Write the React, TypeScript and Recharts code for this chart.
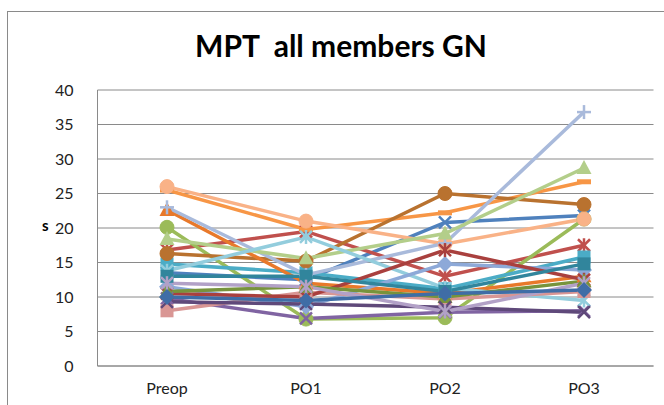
import React from "react";
import { LineChart, Line, XAxis, YAxis, CartesianGrid } from "recharts";

const categories = ["Preop", "PO1", "PO2", "PO3"];
const yTicks = [0, 5, 10, 15, 20, 25, 30, 35, 40];

const m01 = [13.5, 12.5, 20.8, 21.8];
const m02 = [16.8, 19.5, 13.0, 17.5];
const m03 = [20.1, 6.8, 7.0, 21.3];
const m04 = [9.8, 6.9, 7.8, 8.0];
const m05 = [14.8, 13.5, 11.2, 15.8];
const m06 = [25.5, 19.8, 22.2, 26.7];
const m07 = [16.3, 15.2, 25.0, 23.4];
const m08 = [22.6, 12.0, 10.5, 13.0];
const m09 = [26.0, 21.0, 17.7, 21.3];
const m10 = [23.0, 13.2, 17.8, 36.8];
const m11 = [18.4, 15.6, 19.2, 28.7];
const m12 = [13.8, 18.7, 11.3, 9.5];
const m13 = [11.5, 8.6, 14.8, 13.9];
const m14 = [8.0, 10.7, 9.7, 10.8];
const m15 = [10.5, 10.0, 16.8, 12.5];
const m16 = [10.8, 11.5, 10.0, 12.3];
const m17 = [9.3, 9.0, 8.5, 7.8];
const m18 = [13.0, 13.0, 10.8, 14.8];
const m19 = [12.0, 11.5, 7.9, 12.0];
const m20 = [10.0, 9.5, 10.5, 11.0];

const seriesValues = [m01, m02, m03, m04, m05, m06, m07, m08, m09, m10, m11, m12, m13, m14, m15, m16, m17, m18, m19, m20];

const seriesColors = [
  "#4F81BD", "#C0504D", "#9BBB59", "#8064A2", "#4BACC6", "#F79646", "#B9722F",
  "#E8792B", "#F9B287", "#A9BADB", "#B3CE8A", "#93CDDD", "#8DA9D8", "#D99694",
  "#A9403E", "#77933C", "#5F497A", "#31859C", "#B2A1C7", "#3F6DA6",
];
const seriesMarkers = [
  "x", "star", "circle", "x", "square", "dash", "circle",
  "triangle", "circle", "plus", "triangle", "star", "diamond", "square",
  "star", "triangle", "x", "square", "star", "diamond",
];

const data = categories.map((c, i) => {
  const row: Record<string, any> = { name: c };
  seriesValues.forEach((s, k) => {
    row["m" + (k + 1)] = s[i];
  });
  return row;
});

function MarkerShape({ cx, cy, color, shape }: any) {
  if (cx == null || cy == null) return null;
  const r = 7;
  switch (shape) {
    case "circle":
      return <circle cx={cx} cy={cy} r={r} fill={color} stroke={color} strokeWidth={1} />;
    case "square":
      return <rect x={cx - 6.5} y={cy - 6.5} width={13} height={13} fill={color} />;
    case "triangle":
      return <polygon points={`${cx},${cy - 8} ${cx + 7.5},${cy + 6} ${cx - 7.5},${cy + 6}`} fill={color} />;
    case "diamond":
      return <polygon points={`${cx},${cy - 8} ${cx + 8},${cy} ${cx},${cy + 8} ${cx - 8},${cy}`} fill={color} />;
    case "x":
      return (
        <g stroke={color} strokeWidth={2.5}>
          <line x1={cx - 6} y1={cy - 6} x2={cx + 6} y2={cy + 6} />
          <line x1={cx - 6} y1={cy + 6} x2={cx + 6} y2={cy - 6} />
        </g>
      );
    case "star":
      return (
        <g stroke={color} strokeWidth={2.5}>
          <line x1={cx - 6} y1={cy - 6} x2={cx + 6} y2={cy + 6} />
          <line x1={cx - 6} y1={cy + 6} x2={cx + 6} y2={cy - 6} />
          <line x1={cx} y1={cy - 7} x2={cx} y2={cy + 7} />
        </g>
      );
    case "plus":
      return (
        <g stroke={color} strokeWidth={2.5}>
          <line x1={cx - 7} y1={cy} x2={cx + 7} y2={cy} />
          <line x1={cx} y1={cy - 7} x2={cx} y2={cy + 7} />
        </g>
      );
    case "dash":
      return <rect x={cx - 7} y={cy - 2.5} width={14} height={5} fill={color} />;
    default:
      return null;
  }
}

const tickStyle = { fontFamily: "Lato, 'Open Sans', sans-serif", fontSize: 16, fill: "#222" };

export default function App() {
  return (
    <div
      style={{
        position: "fixed",
        left: 0,
        top: 0,
        width: 664,
        height: 405,
        overflow: "hidden",
        background: "#fff",
      }}
    >
      <div
        style={{
          position: "absolute",
          left: 7,
          top: 11,
          width: 720,
          height: 460,
          border: "1.5px solid #8a8a8a",
        }}
      />
      <div
        style={{
          position: "absolute",
          left: 0,
          width: 682,
          top: 27,
          textAlign: "center",
          fontFamily: "Lato, 'Open Sans', sans-serif",
          fontWeight: 700,
          fontSize: 30,
          lineHeight: "36px",
          color: "#000",
          whiteSpace: "pre",
        }}
      >
        {"MPT  all members GN"}
      </div>
      <div
        style={{
          position: "absolute",
          left: 42,
          top: 216,
          fontFamily: "Lato, 'Open Sans', sans-serif",
          fontWeight: 700,
          fontSize: 15,
          color: "#000",
        }}
      >
        s
      </div>
      <div style={{ position: "absolute", left: 0, top: 0 }}>
        <LineChart
          width={664}
          height={405}
          data={data}
          margin={{ top: 90, right: 10.5, left: 37.5, bottom: 9 }}
        >
          <CartesianGrid vertical={false} stroke="#8a8a8a" strokeWidth={1} />
          <XAxis
            dataKey="name"
            padding={{ left: 69.5, right: 69.5 }}
            axisLine={{ stroke: "#8a8a8a" }}
            tickLine={false}
            tick={tickStyle}
            tickMargin={11}
            height={30}
          />
          <YAxis
            domain={[0, 40]}
            ticks={yTicks}
            width={60}
            axisLine={{ stroke: "#8a8a8a" }}
            tickLine={false}
            tick={tickStyle}
            tickMargin={18}
            interval={0}
          />
          {seriesValues.map((_, k) => {
            const color = seriesColors[k];
            const shape = seriesMarkers[k];
            return (
              <Line
                key={"m" + (k + 1)}
                type="linear"
                dataKey={"m" + (k + 1)}
                stroke={color}
                strokeWidth={3.5}
                isAnimationActive={false}
                activeDot={false}
                dot={(p: any) => (
                  <MarkerShape key={"d" + k + "-" + p.index} cx={p.cx} cy={p.cy} color={color} shape={shape} />
                )}
              />
            );
          })}
        </LineChart>
      </div>
    </div>
  );
}
